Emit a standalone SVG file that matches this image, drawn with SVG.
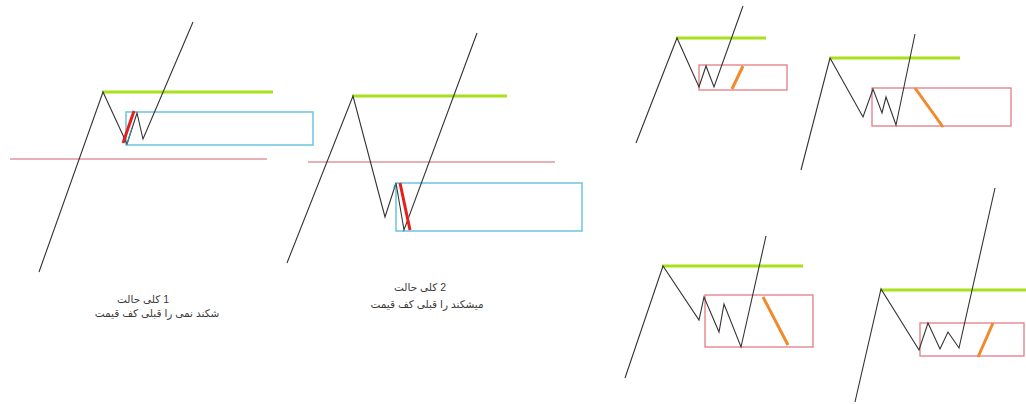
<svg xmlns="http://www.w3.org/2000/svg" width="1026" height="404" viewBox="0 0 1026 404">
<style>
.price{fill:none;stroke:#333;stroke-width:1.1;stroke-linejoin:miter}
.res{stroke:#a8e01c;stroke-width:3;fill:none}
.bluebox{fill:none;stroke:#72c8e0;stroke-width:1.6}
.pinkbox{fill:none;stroke:#e27c84;stroke-width:1.3}
.redline{stroke:#d0606e;stroke-width:1.2}
.redthick{stroke:#e4201e;stroke-width:3}
.orange{stroke:#f08a2c;stroke-width:3}
.teal{stroke:#2a88a8;stroke-width:1.2}
.lbl{font-family:"Liberation Sans","DejaVu Sans",sans-serif;font-size:10.5px;fill:#3a3a3a;text-anchor:middle;direction:ltr}
</style>
<rect width="1026" height="404" fill="#fff"/>

<g id="case1">
  <line class="redline" x1="10" y1="159" x2="267" y2="159"/>
  <rect class="bluebox" x="126" y="112" width="187" height="33"/>
  <line class="res" x1="102" y1="92" x2="273" y2="92"/>
  <polyline class="price" points="39,272 103,92 127,144 137,113 143,139 193,22"/>
  <line class="teal" x1="127" y1="144" x2="132" y2="128"/>
  <line class="redthick" x1="123" y1="143" x2="134" y2="111"/>
  <text class="lbl" x="143" y="303">حالت&#x200E; کلی&#x200E; 1</text>
  <text class="lbl" x="157" y="317">قیمت&#x200E; کف&#x200E; قبلی&#x200E; را&#x200E; نمی&#x200E; شکند</text>
</g>

<g id="case2">
  <line class="redline" x1="308" y1="162" x2="555" y2="162"/>
  <rect class="bluebox" x="396" y="183" width="186" height="48"/>
  <line class="res" x1="352" y1="96" x2="507" y2="96"/>
  <polyline class="price" points="287,263 353,96 385,217 396,183 404,230 477,33"/>
  <line class="teal" x1="394" y1="188" x2="396" y2="183"/>
  <line class="redthick" x1="400" y1="183" x2="410" y2="230"/>
  <text class="lbl" x="420" y="291">حالت&#x200E; کلی&#x200E; 2</text>
  <text class="lbl" x="427" y="308">قیمت&#x200E; کف&#x200E; قبلی&#x200E; را&#x200E; میشکند</text>
</g>

<g id="chartA">
  <rect class="pinkbox" x="699" y="65" width="88" height="25"/>
  <line class="res" x1="676" y1="38" x2="766" y2="38"/>
  <polyline class="price" points="636,143 677,38 699,87 706,66 714,87 743,6"/>
  <line class="orange" x1="732" y1="89" x2="743" y2="66"/>
</g>

<g id="chartB">
  <rect class="pinkbox" x="872" y="88" width="139" height="38"/>
  <line class="res" x1="830" y1="58" x2="960" y2="58"/>
  <polyline class="price" points="801,170 830,58 863,117 873,89 882,113 886,97 896,125 915,34"/>
  <line class="orange" x1="915" y1="88" x2="943" y2="127"/>
</g>

<g id="chartC">
  <rect class="pinkbox" x="705" y="295" width="108" height="52"/>
  <line class="res" x1="662" y1="266" x2="803" y2="266"/>
  <polyline class="price" points="625,378 663,266 699,320 704,297 719,332 724,304 741,347 766,236"/>
  <line class="orange" x1="763" y1="297" x2="788" y2="345"/>
</g>

<g id="chartD">
  <rect class="pinkbox" x="920" y="323" width="104" height="33"/>
  <line class="res" x1="881" y1="290" x2="1026" y2="290"/>
  <polyline class="price" points="855,402 881,289 919,350 928,323 940,349 948,332 959,348 995,188"/>
  <line class="orange" x1="978" y1="357" x2="993" y2="323"/>
</g>
</svg>
